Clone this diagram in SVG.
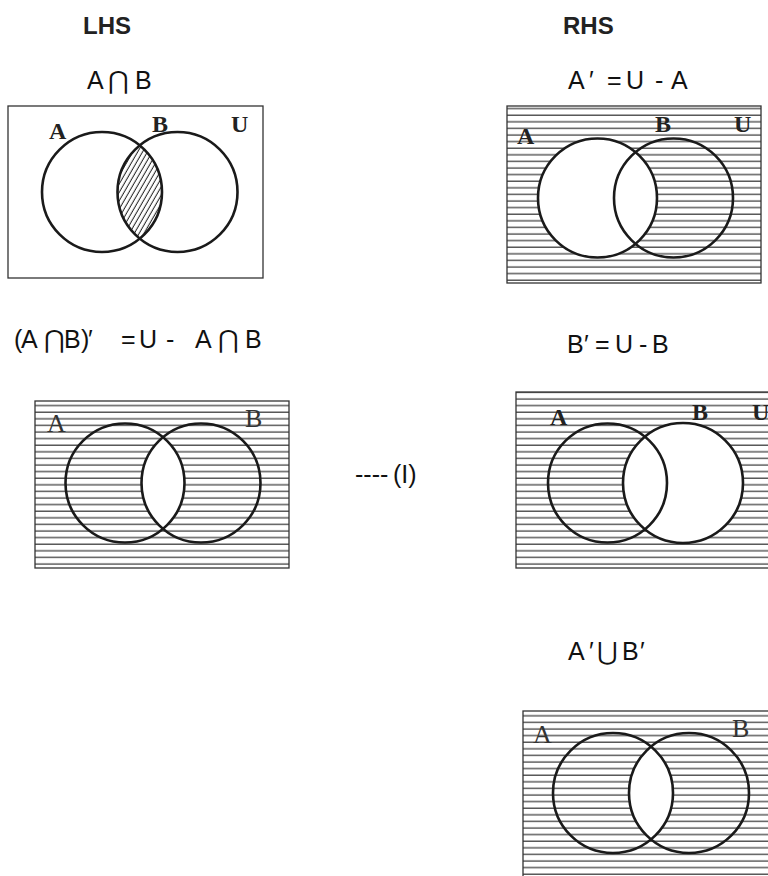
<svg xmlns="http://www.w3.org/2000/svg" width="768" height="876" viewBox="0 0 768 876">
<style>
.frame{fill:none;stroke:#333;stroke-width:1.3}
.circ{fill:none;stroke:#1a1a1a;stroke-width:2.6}
.wcirc{fill:#fff;stroke:none}
.hatch{fill:url(#hz)}
.lblB{font-family:"Liberation Serif",serif;font-weight:bold;font-size:24px;fill:#222}
.lblR{font-family:"Liberation Serif",serif;font-size:26px;fill:#333}
.hdr{font-family:"Liberation Sans",Arial,sans-serif;font-weight:bold;font-size:24px;fill:#222}
.f{font-family:"Liberation Sans","DejaVu Sans",sans-serif;font-size:25px;fill:#111}
.op{font-family:"DejaVu Sans",sans-serif;font-size:25px;fill:#111}
</style>
<defs>
<pattern id="hz" patternUnits="userSpaceOnUse" width="20" height="6.6">
<rect x="0" y="0" width="20" height="6.6" fill="#fff"/>
<line x1="0" y1="3" x2="20" y2="3" stroke="#333" stroke-width="1.2"/>
</pattern>
<pattern id="dg" patternUnits="userSpaceOnUse" width="4.2" height="20" patternTransform="rotate(30)">
<rect x="0" y="0" width="4.2" height="20" fill="#fff"/>
<line x1="2" y1="0" x2="2" y2="20" stroke="#222" stroke-width="1"/>
</pattern>
<clipPath id="clipA1"><circle cx="102" cy="192" r="60"/></clipPath>
<clipPath id="clipA3"><circle cx="125" cy="483" r="59.5"/></clipPath>
<clipPath id="clipA5"><circle cx="613" cy="793" r="60"/></clipPath>
</defs>

<g id="headers">
<text class="hdr" x="83" y="34">LHS</text>
<text class="hdr" x="563" y="34">RHS</text>
</g>

<g id="formula-lhs1">
<text class="f" x="87" y="89">A</text>
<text class="op" x="108" y="89">⋂</text>
<text class="f" x="135" y="89">B</text>
</g>

<g id="formula-rhs1">
<text class="f" x="568" y="89">A</text>
<text class="f" x="589" y="89">′</text>
<text class="f" x="607" y="89">=</text>
<text class="f" x="626" y="89">U</text>
<text class="f" x="655" y="89">-</text>
<text class="f" x="671" y="89">A</text>
</g>

<g id="venn-lhs1">
<rect class="frame" x="8" y="106" width="255" height="172" fill="#fff"/>
<circle cx="177.5" cy="192" r="60" fill="url(#dg)" clip-path="url(#clipA1)"/>
<circle class="circ" cx="102" cy="192" r="60"/>
<circle class="circ" cx="177.5" cy="192" r="60"/>
<text class="lblB" x="49" y="139">A</text>
<text class="lblB" x="152" y="132">B</text>
<text class="lblB" x="231" y="132">U</text>
</g>

<g id="venn-rhs1">
<rect class="frame hatch" x="507" y="106" width="254" height="177"/>
<circle class="wcirc" cx="597.5" cy="198" r="59.5"/>
<circle class="circ" cx="597.5" cy="198" r="59.5"/>
<circle class="circ" cx="673.5" cy="198" r="59.5"/>
<text class="lblB" x="517" y="144">A</text>
<text class="lblB" x="655" y="132">B</text>
<text class="lblB" x="734" y="132">U</text>
</g>

<g id="formula-lhs2">
<text class="f" x="14" y="348" font-size="26">(</text>
<text class="f" x="21" y="348" font-size="26">A</text>
<text class="op" x="44" y="348" font-size="26">⋂</text>
<text class="f" x="64" y="348" font-size="26">B</text>
<text class="f" x="81" y="348" font-size="26">)</text>
<text class="f" x="88" y="348" font-size="26">′</text>
<text class="f" x="121" y="348" font-size="26">=</text>
<text class="f" x="139" y="348" font-size="26">U</text>
<text class="f" x="166" y="348" font-size="26">-</text>
<text class="f" x="195" y="348" font-size="26">A</text>
<text class="op" x="218" y="348" font-size="26">⋂</text>
<text class="f" x="245" y="348" font-size="26">B</text>
</g>

<g id="formula-rhs2">
<text class="f" x="567" y="353">B</text>
<text class="f" x="584" y="353">′</text>
<text class="f" x="595" y="353">=</text>
<text class="f" x="615" y="353">U</text>
<text class="f" x="639" y="353">-</text>
<text class="f" x="652" y="353">B</text>
</g>

<g id="venn-lhs2">
<rect class="frame hatch" x="35" y="401" width="254" height="167"/>
<circle cx="201" cy="483" r="59.5" fill="#fff" clip-path="url(#clipA3)"/>
<circle class="circ" cx="125" cy="483" r="59.5"/>
<circle class="circ" cx="201" cy="483" r="59.5"/>
<text class="lblR" x="47" y="432">A</text>
<text class="lblR" x="245" y="427">B</text>
</g>

<g id="eq-label">
<text class="f" x="355" y="483" font-size="22">----</text>
<text class="f" x="393" y="483" font-size="22">(I)</text>
</g>

<g id="venn-rhs2">
<rect class="frame hatch" x="516" y="392" width="256" height="176"/>
<circle class="wcirc" cx="683" cy="483" r="60"/>
<circle class="circ" cx="607.5" cy="483" r="59.5"/>
<circle class="circ" cx="683" cy="483" r="60"/>
<text class="lblB" x="550" y="425">A</text>
<text class="lblB" x="692" y="420">B</text>
<text class="lblB" x="752" y="420">U</text>
</g>

<g id="formula-rhs3">
<text class="f" x="568" y="660">A</text>
<text class="f" x="589" y="660">′</text>
<text class="op" x="597" y="660">⋃</text>
<text class="f" x="622" y="660">B</text>
<text class="f" x="640" y="660">′</text>
</g>

<g id="venn-rhs3">
<rect class="frame hatch" x="523" y="711" width="256" height="170"/>
<circle cx="689" cy="793" r="60" fill="#fff" clip-path="url(#clipA5)"/>
<circle class="circ" cx="613" cy="793" r="60"/>
<circle class="circ" cx="689" cy="793" r="60"/>
<text class="lblR" x="533" y="743">A</text>
<text class="lblR" x="732" y="737">B</text>
</g>
</svg>
